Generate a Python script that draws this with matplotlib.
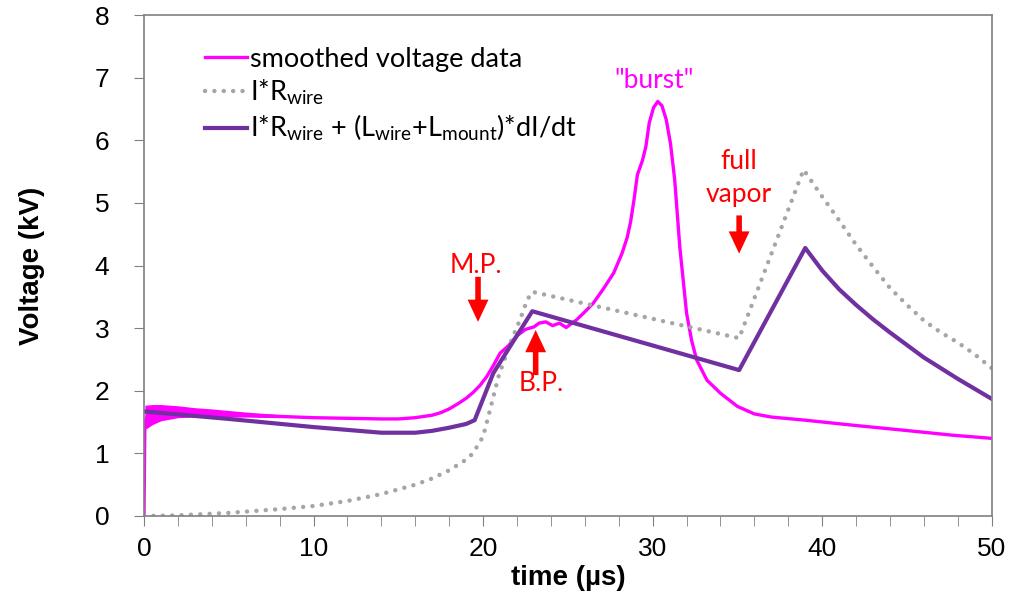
import numpy as np
import matplotlib
matplotlib.use("Agg")
import matplotlib.pyplot as plt

plt.rcParams['font.family'] = ['Liberation Sans', 'DejaVu Sans']
plt.rcParams['mathtext.fontset'] = 'custom'
plt.rcParams['mathtext.rm'] = 'Lato'
plt.rcParams['mathtext.it'] = 'Lato:italic'

# smoothed voltage data (kV) vs time (us)
t_meas = [0.0, 0.05, 0.3, 1.0, 2.0, 4.0, 6.0, 8.0, 10.0, 12.0, 14.0, 15.0, 16.0,
          17.0, 17.5, 18.0, 18.5, 19.0, 19.4, 19.8, 20.2, 20.6, 21.0, 21.5, 22.0,
          22.5, 23.0, 23.3, 23.7, 24.1, 24.5, 24.9, 25.5, 26.0, 26.5, 27.1, 27.7,
          28.2, 28.5, 28.7, 28.9, 29.1, 29.4, 29.6, 29.8, 30.05, 30.3, 30.55, 30.8,
          31.05, 31.3, 31.6, 32.0, 32.3, 32.6, 33.2, 34.0, 35.0, 36.0, 37.0, 39.0,
          41.8, 44.8, 47.7, 50.0]
v_meas = [0.0, 1.5, 1.66, 1.7, 1.68, 1.64, 1.61, 1.59, 1.57, 1.56, 1.55, 1.55, 1.57,
          1.61, 1.65, 1.71, 1.79, 1.88, 1.97, 2.08, 2.22, 2.4, 2.6, 2.72, 2.88,
          2.98, 3.02, 3.08, 3.1, 3.04, 3.08, 3.01, 3.13, 3.26, 3.4, 3.63, 3.88,
          4.2, 4.45, 4.7, 5.05, 5.45, 5.68, 5.9, 6.28, 6.52, 6.62, 6.55, 6.33,
          5.95, 5.37, 4.3, 3.24, 2.8, 2.49, 2.17, 1.96, 1.75, 1.63, 1.58, 1.53,
          1.45, 1.37, 1.29, 1.24]

# early noisy band of the measured signal
t_band = [0.05, 0.5, 1.0, 2.0, 3.0, 4.0, 6.0, 8.0]
v_band_lo = [1.38, 1.46, 1.52, 1.57, 1.58, 1.58, 1.58, 1.57]
v_band_hi = [1.77, 1.78, 1.78, 1.76, 1.73, 1.71, 1.66, 1.62]

# I*R_wire
t_ir = [0.0, 2.0, 5.0, 8.0, 10.0, 12.0, 14.0, 16.0, 17.0, 18.0, 19.0, 19.4, 20.0,
        20.3, 20.9, 21.6, 22.2, 22.6, 22.9, 35.1, 38.9, 40.0, 41.0, 42.0, 43.0,
        44.0, 45.0, 46.0, 47.0, 48.0, 49.0, 50.0]
v_ir = [0.0, 0.01, 0.05, 0.11, 0.16, 0.24, 0.35, 0.5, 0.6, 0.73, 0.9, 1.0, 1.27,
        1.58, 2.22, 2.76, 3.15, 3.45, 3.58, 2.84, 5.53, 5.1, 4.72, 4.33, 3.98,
        3.64, 3.37, 3.12, 2.93, 2.77, 2.58, 2.36]

# I*R_wire + (L_wire+L_mount)*dI/dt
t_ird = [0.0, 5.0, 10.0, 14.0, 16.0, 17.0, 18.0, 19.0, 19.5, 20.6, 21.2, 22.9,
         35.1, 39.0, 40.0, 41.0, 42.0, 43.0, 44.0, 45.0, 46.0, 47.0, 48.0, 49.0, 50.0]
v_ird = [1.67, 1.55, 1.42, 1.33, 1.33, 1.36, 1.41, 1.47, 1.53, 2.28, 2.54, 3.27,
         2.33, 4.28, 3.92, 3.62, 3.37, 3.14, 2.93, 2.73, 2.53, 2.36, 2.19, 2.03, 1.87]

fig = plt.figure(figsize=(10.12, 6.04), dpi=100)
ax = fig.add_axes([0.1423, 0.1457, 0.8377, 0.8294])

ax.fill_between(t_band, v_band_lo, v_band_hi, color='#FF00FF', lw=0)
ax.plot(t_meas, v_meas, color='#FF00FF', lw=2.4, label='smoothed voltage data')
ax.plot(t_ir, v_ir, color='#A6A6A6', lw=3.2, linestyle=(0, (0.01, 2.1)),
        dash_capstyle='round', label=r'I*R$_{\mathrm{wire}}$')
ax.plot(t_ird, v_ird, color='#7030A0', lw=3,
        label=r'I*R$_{\mathrm{wire}}$ + (L$_{\mathrm{wire}}$+L$_{\mathrm{mount}}$)*dI/dt')

ax.set_xlim(0, 50)
ax.set_ylim(0, 8)
ax.set_xticks(np.arange(0, 51, 10))
ax.set_xticks(np.arange(0, 51, 2), minor=True)
ax.set_yticks(np.arange(0, 9, 1))
ax.tick_params(axis='both', which='major', labelsize=19, length=7, color='#808080', direction='out')
ax.tick_params(axis='x', which='minor', length=7, color='#808080', direction='out')
ax.tick_params(axis='x', pad=8)
ax.tick_params(axis='y', pad=18)
for lab in ax.get_xticklabels() + ax.get_yticklabels():
    lab.set_family('Liberation Sans')
for s in ax.spines.values():
    s.set_color('#808080')
    s.set_linewidth(1.2)

ax.set_xlabel('time (\u00b5s)', fontsize=20, fontweight='bold', family='Liberation Sans', labelpad=3)
ax.set_ylabel('Voltage (kV)', fontsize=20, fontweight='bold', family='Liberation Sans', labelpad=36)

leg = ax.legend(loc='upper left', bbox_to_anchor=(0.043, 0.985), frameon=False,
                prop={'family': 'Lato', 'size': 19.5}, handlelength=1.55,
                handletextpad=0.12, labelspacing=0.22)

red = '#FF0000'
arrow = dict(facecolor=red, edgecolor='none', width=4, headwidth=15, headlength=16, shrink=0)
fs = 19
ax.annotate('', xy=(19.7, 3.1), xytext=(19.7, 3.82), arrowprops=arrow)
ax.text(19.6, 4.0, 'M.P.', color=red, fontsize=fs, family='Lato', ha='center', va='center')
ax.annotate('', xy=(23.1, 2.97), xytext=(23.1, 2.25), arrowprops=arrow)
ax.text(23.4, 2.12, 'B.P.', color=red, fontsize=fs, family='Lato', ha='center', va='center')
ax.annotate('', xy=(35.1, 4.19), xytext=(35.1, 4.8), arrowprops=arrow)
ax.text(35.1, 5.66, 'full', color=red, fontsize=fs, family='Lato', ha='center', va='center')
ax.text(35.1, 5.13, 'vapor', color=red, fontsize=fs, family='Lato', ha='center', va='center')
ax.text(30.1, 6.96, '"burst"', color='#FF00FF', fontsize=fs, family='Lato', ha='center', va='center')

fig.savefig('out.png', dpi=100)
